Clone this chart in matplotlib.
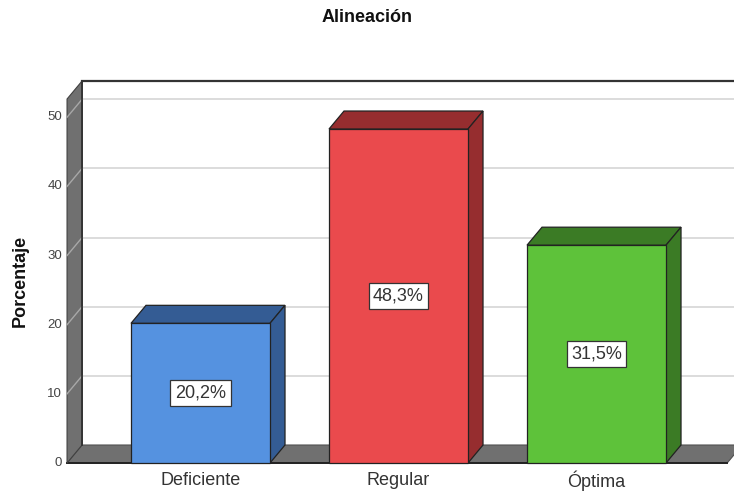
import matplotlib
matplotlib.use("Agg")
import matplotlib.pyplot as plt
from matplotlib.patches import Polygon, Rectangle

categories = ["Deficiente", "Regular", "Óptima"]
values = [20.2, 48.3, 31.5]
value_labels = ["20,2%", "48,3%", "31,5%"]
yticks = [0, 10, 20, 30, 40, 50]
front_colors = ["#5592e0", "#ea4a4d", "#5ec23a"]
dark_colors = ["#345c94", "#962d2f", "#3b7b25"]

plt.rcParams["font.family"] = ["Liberation Sans", "DejaVu Sans"]

fig = plt.figure(figsize=(7.34, 4.94), dpi=100)
ax = fig.add_axes([0, 0, 1, 1])
ax.set_xlim(-1.0126, 2.6944)
ax.set_ylim(-4.483, 66.96)
ax.axis("off")

DX = 0.0758   # depth offset in category units
DY = 2.603    # depth offset in value units
W = 0.702     # bar width
YMAX = 52.64
XL = -0.674   # front left of wall
XR = 2.66     # front right of floor
XFAR = 3.0
edge = "#222222"

# back wall gridlines
for t in yticks[1:]:
    ax.plot([XL + DX, XFAR], [t + DY, t + DY], color="#d9d9d9", lw=1.3, zorder=1)
# back wall top and left edge
ax.plot([XL + DX, XFAR], [YMAX + DY, YMAX + DY], color="#333333", lw=1.6, zorder=2)
ax.plot([XL + DX, XL + DX], [DY, YMAX + DY], color="#333333", lw=1.2, zorder=2)

# floor
floor = Polygon([(XL, 0), (XR, 0), (XR + DX, DY), (XL + DX, DY)], closed=True,
                facecolor="#707070", edgecolor="#505050", lw=0.8, zorder=3)
ax.add_patch(floor)
ax.plot([XL, XR], [0, 0], color="#222222", lw=1.4, zorder=3)
# left wall
wall = Polygon([(XL, 0), (XL + DX, DY), (XL + DX, YMAX + DY), (XL, YMAX)], closed=True,
               facecolor="#707070", edgecolor="#404040", lw=0.8, zorder=4)
ax.add_patch(wall)
for t in yticks[1:]:
    ax.plot([XL, XL + DX], [t, t + DY], color="#a8a8a8", lw=1.0, zorder=5)
ax.plot([XL + DX, XL + DX], [DY, YMAX + DY], color="#333333", lw=1.3, zorder=5)

# tick labels
for t in yticks:
    ax.text(-0.6995, t, str(t), ha="right", va="center", fontsize=9.5, color="#444444", zorder=6)

# bars
for i, (v, fc, dc) in enumerate(zip(values, front_colors, dark_colors)):
    x0 = i - W / 2
    x1 = i + W / 2
    top = Polygon([(x0, v), (x1, v), (x1 + DX, v + DY), (x0 + DX, v + DY)], closed=True,
                  facecolor=dc, edgecolor=edge, lw=0.9, zorder=7)
    side = Polygon([(x1, 0), (x1 + DX, DY), (x1 + DX, v + DY), (x1, v)], closed=True,
                   facecolor=dc, edgecolor=edge, lw=0.9, zorder=7)
    front = Rectangle((x0, 0), W, v, facecolor=fc, edgecolor=edge, lw=0.9, zorder=8)
    ax.add_patch(top)
    ax.add_patch(side)
    ax.add_patch(front)
    ax.text(i, v / 2, value_labels[i], ha="center", va="center", fontsize=13, color="#333333",
            zorder=9, bbox=dict(boxstyle="square,pad=0.25", facecolor="white", edgecolor="#333333", lw=0.9))
    ax.text(i, -2.6, categories[i], ha="center", va="center", fontsize=13, color="#333333", zorder=9)

ax.text(-0.9116, YMAX / 2, "Porcentaje", rotation=90, ha="center", va="center",
        fontsize=13, fontweight="bold", color="#111111")
fig.text(0.5, 1 - 18 / 494, "Alineación", ha="center", va="center", fontsize=13,
         fontweight="bold", color="#111111")

fig.savefig("out.png", dpi=100, facecolor="white")
